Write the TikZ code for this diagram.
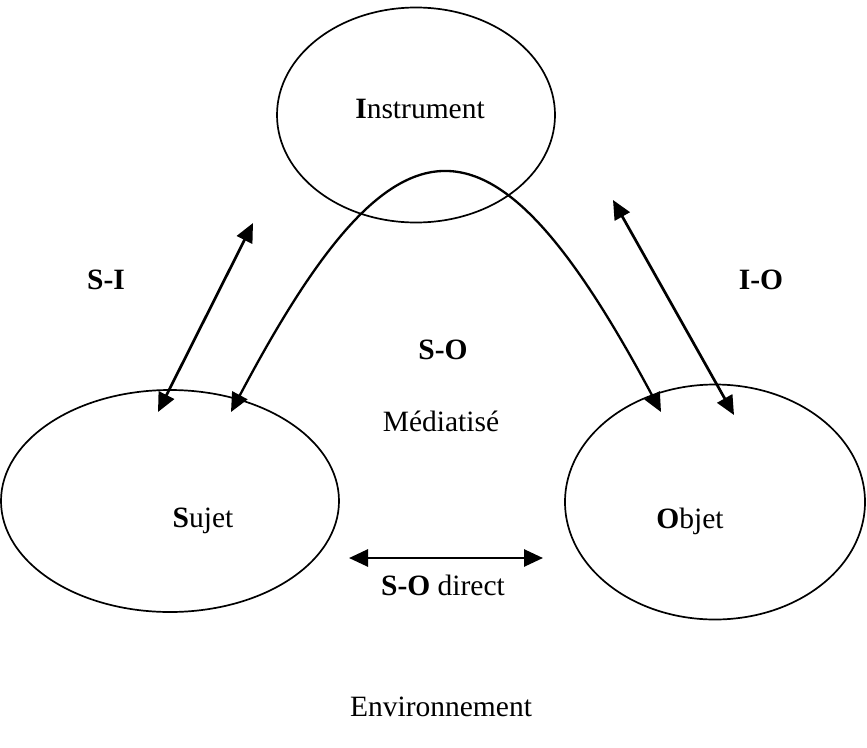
\documentclass[tikz,border=0pt]{standalone}
\usepackage{fontspec}
\setmainfont{Liberation Serif}
\usetikzlibrary{shapes.geometric,arrows.meta}
\begin{document}
\begin{tikzpicture}[x=1pt,y=-1pt,
  pole/.style={draw,ellipse,line width=1.7pt,inner sep=0pt},
  lbl/.style={font=\fontsize{29.5}{34}\selectfont,inner sep=0pt},
  tip/.style={Triangle[length=19pt,width=17pt]},
  link/.style={line width=2.7pt,{Triangle[length=19pt,width=17pt]}-{Triangle[length=19pt,width=17pt]}}]
\useasboundingbox (0,0) rectangle (867,747);
% the three poles
\node[pole,minimum width=278pt,minimum height=215pt] (inst) at (416,115) {};
\node[pole,minimum width=338pt,minimum height=222pt] (suj) at (170,501) {};
\node[pole,minimum width=300pt,minimum height=235pt] (obj) at (715,502) {};
\node[lbl] (tinst) at (420,109) {\textbf{I}nstrument};
\node[lbl] (tsuj) at (203,521) {\textbf{S}ujet};
\node[lbl] (tobj) at (690,521) {\textbf{O}bjet};
% arrow ends
\coordinate (si1) at (158,412);
\coordinate (si2) at (253,223);
\coordinate (io1) at (613,200);
\coordinate (io2) at (734,415);
\coordinate (so1) at (231,412);
\coordinate (so2) at (661,412);
\coordinate (sd1) at (349,558);
\coordinate (sd2) at (543,558);
% relations
\draw[link] (si1) -- (si2);
\draw[link] (io1) -- (io2);
\draw[line width=2.3pt,{Triangle[length=19pt,width=17pt]}-{Triangle[length=19pt,width=17pt]}]
  (so1) .. controls (398,96) and (492,96) .. (so2);
\draw[link] (sd1) -- (sd2);
% labels
\node[lbl] (lsi) at (106,280) {\textbf{S-I}};
\node[lbl] (lio) at (761,280) {\textbf{I-O}};
\node[lbl] (lso) at (443,350) {\textbf{S-O}};
\node[lbl] (lmed) at (441,421) {Médiatisé};
\node[lbl] (lsd) at (443,585) {\textbf{S-O} direct};
\node[lbl] (lenv) at (441,707) {Environnement};
\end{tikzpicture}
\end{document}
